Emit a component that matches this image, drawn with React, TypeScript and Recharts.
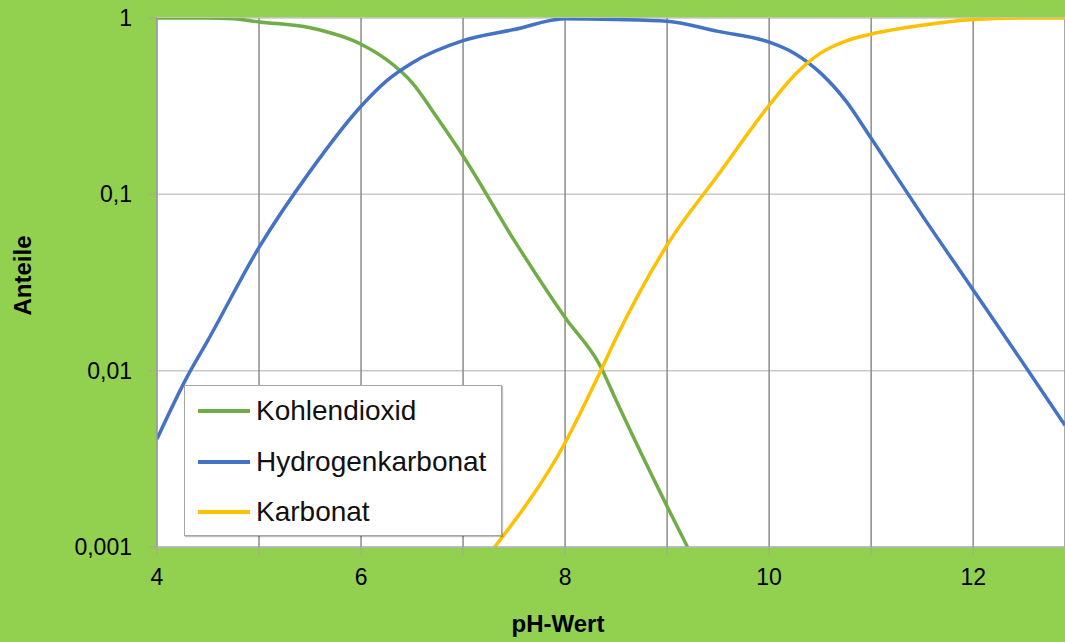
import React from 'react';
import { LineChart, Line, XAxis, YAxis, CartesianGrid, Label } from 'recharts';

// Anteile der Kohlensäure-Spezies über dem pH-Wert (log-Skala)

const CO2_PH = [4, 4.5, 4.75, 5, 5.5, 6, 6.25, 6.5, 6.75, 7, 7.5, 8, 8.35, 8.5, 9, 9.2];
const CO2_VAL = [1, 1, 0.99, 0.95, 0.88, 0.71, 0.58, 0.43, 0.27, 0.165, 0.055, 0.02, 0.0105, 0.0068, 0.0017, 0.001];

const HCO3_PH = [4, 4.29, 4.5, 5, 5.5, 6, 6.25, 6.5, 7, 7.5, 8, 8.5, 9, 9.5, 10, 10.25, 10.5, 10.75, 11, 11.5, 12, 12.5, 12.9];
const HCO3_VAL = [0.0041, 0.0091, 0.0149, 0.05, 0.135, 0.316, 0.44, 0.556, 0.744, 0.86, 0.99, 0.98, 0.957, 0.84, 0.73, 0.63, 0.49, 0.34, 0.208, 0.076, 0.0287, 0.0108, 0.0049];

const CO3_PH = [7.31, 8, 8.35, 8.5, 9, 9.5, 10, 10.25, 10.5, 10.75, 11, 11.5, 12, 12.5, 12.9];
const CO3_VAL = [0.001, 0.0039, 0.01, 0.0153, 0.0516, 0.129, 0.32, 0.475, 0.63, 0.74, 0.81, 0.91, 0.98, 1, 1];

const X_TICKS = [4, 5, 6, 7, 8, 9, 10, 11, 12];
const Y_TICKS = [0.001, 0.01, 0.1, 1];

const SERIES = [
  { name: 'Kohlendioxid', color: '#70AD47', ph: CO2_PH, val: CO2_VAL },
  { name: 'Hydrogenkarbonat', color: '#4472C4', ph: HCO3_PH, val: HCO3_VAL },
  { name: 'Karbonat', color: '#FFC000', ph: CO3_PH, val: CO3_VAL },
];

const FONT = '"Liberation Sans", Arial, sans-serif';
const BG = '#92D050';

const zip = (xs: number[], ys: number[]) => xs.map((x, i) => ({ ph: x, v: ys[i] }));

const formatY = (v: number) => String(v).replace('.', ',');
const formatX = (v: number) => (v % 2 === 0 ? String(v) : '');

const ChartLegend = () => (
  <div
    style={{
      position: 'absolute',
      left: 184,
      top: 385,
      width: 318,
      height: 151,
      background: '#fff',
      border: '1px solid #a6a6a6',
      boxShadow: '1px 1px 1px rgba(0,0,0,0.25)',
      fontFamily: FONT,
      fontSize: 28,
      color: '#111',
      boxSizing: 'border-box',
      paddingTop: 0,
    }}
  >
    {SERIES.map((s) => (
      <div key={s.name} style={{ display: 'flex', alignItems: 'center', height: 50.5 }}>
        <div style={{ width: 52, height: 4, background: s.color, marginLeft: 13, marginRight: 6 }} />
        <span>{s.name}</span>
      </div>
    ))}
  </div>
);

export default function App() {
  return (
    <div style={{ position: 'absolute', left: 0, top: 0, width: 1065, height: 642, background: BG }}>
      <LineChart width={1065} height={642} margin={{ top: 18, right: 0, bottom: 0, left: 0 }}>
        <CartesianGrid fill="#fff" vertical={false} stroke="#c8c8c8" strokeWidth={1.5} />
        <CartesianGrid horizontal={false} stroke="#8c8c8c" strokeWidth={1.5} />
        <XAxis
          type="number"
          dataKey="ph"
          domain={[4, 12.9]}
          ticks={X_TICKS}
          tickFormatter={formatX}
          allowDataOverflow
          height={95}
          tickSize={8}
          tickMargin={14}
          stroke="#a6a6a6"
          tick={{ fill: '#000', fontSize: 23, fontFamily: FONT }}
        >
          <Label
            content={({ viewBox }: any) => (
              <text
                x={558}
                y={viewBox.y + 85}
                textAnchor="middle"
                fontFamily={FONT}
                fontSize={24}
                fontWeight="bold"
                fill="#000"
              >
                pH-Wert
              </text>
            )}
          />
        </XAxis>
        <YAxis
          type="number"
          scale="log"
          domain={[0.001, 1]}
          ticks={Y_TICKS}
          tickFormatter={formatY}
          allowDataOverflow
          width={157}
          tickSize={8}
          tickMargin={17}
          stroke="#a6a6a6"
          tick={{ fill: '#000', fontSize: 23, fontFamily: FONT }}
        >
          <Label
            content={({ viewBox }: any) => {
              const x = 31;
              const y = viewBox.y + viewBox.height / 2 - 7;
              return (
                <text
                  x={x}
                  y={y}
                  transform={`rotate(-90 ${x} ${y})`}
                  textAnchor="middle"
                  fontFamily={FONT}
                  fontSize={24}
                  fontWeight="bold"
                  fill="#000"
                >
                  Anteile
                </text>
              );
            }}
          />
        </YAxis>
        {SERIES.map((s) => (
          <Line
            key={s.name}
            data={zip(s.ph, s.val)}
            dataKey="v"
            name={s.name}
            type="monotone"
            stroke={s.color}
            strokeWidth={3.5}
            dot={false}
            isAnimationActive={false}
          />
        ))}
      </LineChart>
      <ChartLegend />
    </div>
  );
}
